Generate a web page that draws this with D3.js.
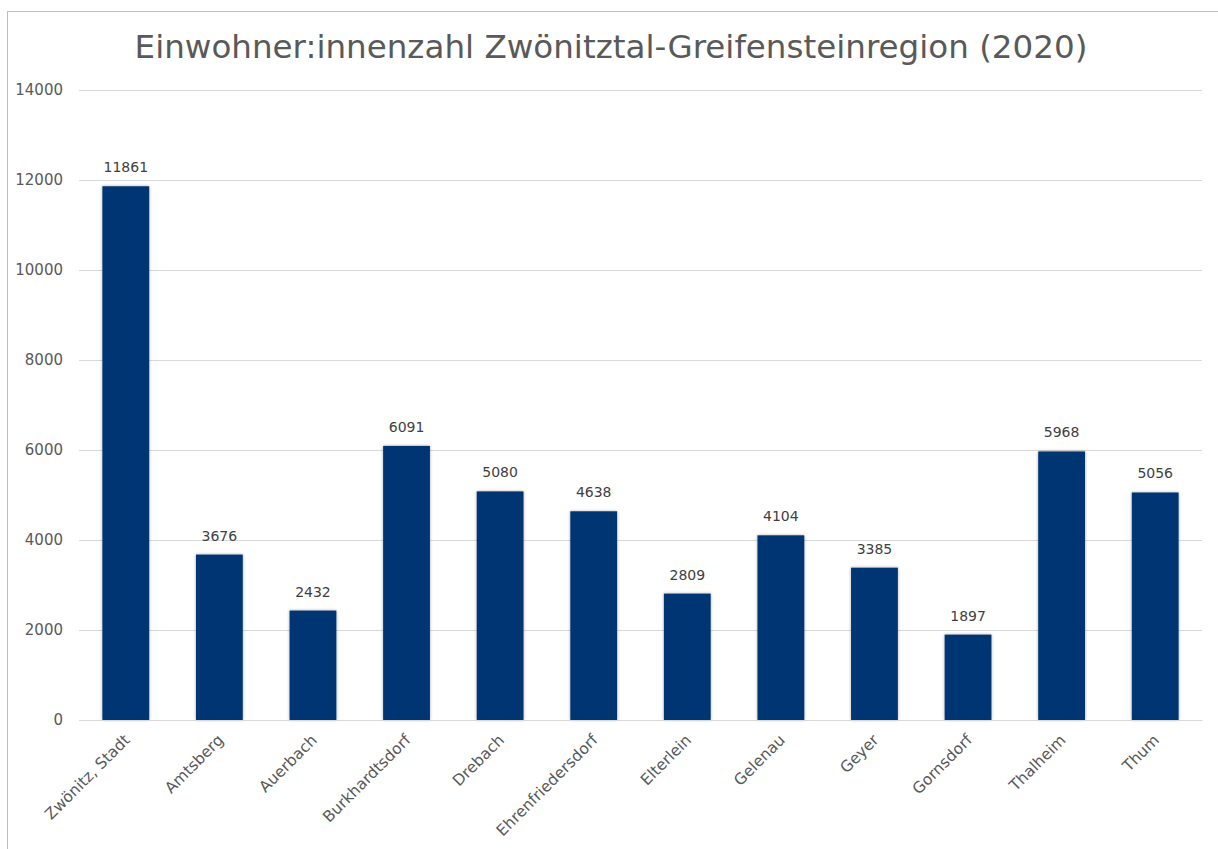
<!DOCTYPE html>
<html><head><meta charset="utf-8">
<script src="https://cdn.jsdelivr.net/npm/d3@7"></script>
<style>body{margin:0;background:#fff;} text{font-family:"DejaVu Sans",sans-serif;}</style>
</head><body>
<svg id="c" width="1218" height="849"></svg>
<script>
const categories = ["Zwönitz, Stadt","Amtsberg","Auerbach","Burkhardtsdorf","Drebach","Ehrenfriedersdorf","Elterlein","Gelenau","Geyer","Gornsdorf","Thalheim","Thum"];
const values = [11861,3676,2432,6091,5080,4638,2809,4104,3385,1897,5968,5056];
const yTicks = [0,2000,4000,6000,8000,10000,12000,14000];
const title = "Einwohner:innenzahl Zwönitztal-Greifensteinregion (2020)";

const svg = d3.select("#c");
svg.append("rect").attr("x",7.5).attr("y",11.5).attr("width",1215).attr("height",845)
  .attr("fill","#fff").attr("stroke","#bfbfbf").attr("stroke-width",1);

const defs = svg.append("defs");
const f = defs.append("filter").attr("id","sh").attr("x","-20%").attr("y","-5%").attr("width","140%").attr("height","110%");
f.append("feDropShadow").attr("dx",0).attr("dy",0).attr("stdDeviation",1.5).attr("flood-color","#000").attr("flood-opacity",0.35);

const x = d3.scaleBand().domain(categories).range([79,1202]).paddingInner(0.5).paddingOuter(0.25);
const y = d3.scaleLinear().domain([0,14000]).range([720,90]);

const t = svg.append("text").attr("x",611).attr("y",58).attr("text-anchor","middle")
  .attr("font-size",30).attr("fill","#595959").text(title);
const w = t.node().getComputedTextLength();
t.attr("font-size", 30*953/w);

const yAxis = svg.append("g").attr("transform","translate(79,0)")
  .call(d3.axisLeft(y).tickValues(yTicks).tickSize(-1123).tickFormat(d3.format("d")));
yAxis.select(".domain").remove();
yAxis.selectAll(".tick line").attr("stroke","#d9d9d9");
yAxis.selectAll(".tick text").attr("x",-16).attr("font-size",15).attr("fill","#595959").attr("font-family","DejaVu Sans, sans-serif");

svg.append("g").selectAll("rect").data(values).join("rect")
  .attr("x",(d,i)=>x(categories[i])).attr("width",x.bandwidth())
  .attr("y",d=>y(d)).attr("height",d=>y(0)-y(d))
  .attr("fill","#003473").attr("filter","url(#sh)");

svg.append("g").selectAll("text").data(values).join("text")
  .attr("x",(d,i)=>x(categories[i])+x.bandwidth()/2).attr("y",d=>y(d)-14)
  .attr("text-anchor","middle").attr("font-size",14).attr("fill","#404040").text(d=>d);

const xAxis = svg.append("g").attr("transform","translate(0,720)")
  .call(d3.axisBottom(x).tickSize(0));
xAxis.select(".domain").attr("stroke","#d9d9d9");
xAxis.selectAll(".tick text").attr("font-size",15.5).attr("fill","#595959").attr("font-family","DejaVu Sans, sans-serif")
  .attr("text-anchor","end").attr("y",0).attr("dy",0).attr("dx",0)
  .attr("transform","translate(5,21) rotate(-45)");
</script>
</body></html>
